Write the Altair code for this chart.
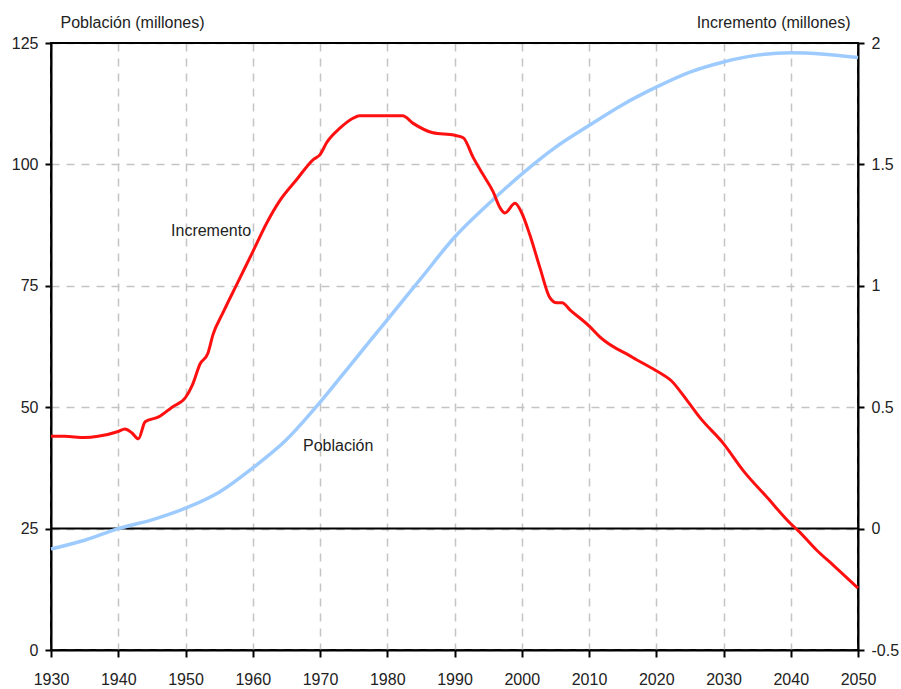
import altair as alt
import pandas as pd

# Población (millones), eje izquierdo
pop_years = [1930, 1935, 1940, 1945, 1950, 1955, 1960, 1965, 1970, 1975, 1980,
             1985, 1990, 1995, 2000, 2005, 2010, 2015, 2020, 2025, 2030, 2035,
             2040, 2045, 2050]
pop_values = [20.8, 22.6, 25.0, 26.8, 29.2, 32.5, 37.5, 43.3, 51.0, 59.5, 68.0,
              76.5, 85.0, 91.8, 98.0, 103.5, 108.0, 112.3, 115.9, 119.0, 121.1,
              122.5, 123.0, 122.7, 122.0]

# Incremento (millones), eje derecho
inc_years = [1930, 1932, 1935, 1937, 1940, 1941, 1942, 1943, 1944, 1946, 1948,
             1950, 1951, 1952.2, 1953.3, 1954.1, 1955.5, 1957.7, 1960, 1962.1,
             1964, 1966.6, 1969, 1970, 1971, 1973, 1974.9, 1975.9, 1982.3,
             1983.8, 1986.8, 1990, 1991.3, 1992.75, 1994.2, 1995.7, 1996.8,
             1997.5, 1999, 2000, 2001.2, 2002.7, 2004.2, 2005.2, 2006, 2007.2,
             2010, 2011.6, 2016.5, 2020, 2022.2, 2024.6, 2026.5, 2030, 2032.9,
             2036.5, 2040, 2041.1, 2043.9, 2046.3, 2050]
inc_values = [0.38, 0.38, 0.375, 0.38, 0.40, 0.41, 0.395, 0.37, 0.44, 0.46, 0.50,
              0.54, 0.59, 0.68, 0.72, 0.80, 0.885, 1.01, 1.14, 1.26,
              1.35, 1.44, 1.52, 1.54, 1.59, 1.65, 1.69, 1.70, 1.70,
              1.67, 1.63, 1.62, 1.61, 1.53, 1.46, 1.39, 1.32,
              1.30, 1.34, 1.30, 1.21, 1.075, 0.95, 0.93, 0.93, 0.90,
              0.835, 0.79, 0.705, 0.65, 0.61, 0.527, 0.457, 0.35, 0.24,
              0.128, 0.02, -0.008, -0.09, -0.15, -0.245]

x_ticks = list(range(1930, 2051, 10))
left_ticks = [0, 25, 50, 75, 100, 125]
right_ticks = [-0.5, 0, 0.5, 1, 1.5, 2]

labels_pop = pd.DataFrame({"year": [1972.7], "v": [42.0], "t": ["Población"]})
labels_inc = pd.DataFrame({"year": [1953.8], "v": [1.227], "t": ["Incremento"]})
solid_lines = pd.DataFrame({"v": [25, 125]})

pop_df = pd.DataFrame({"year": pop_years, "v": pop_values})
inc_df = pd.DataFrame({"year": inc_years, "v": inc_values})

FONT = "Liberation Sans"

x_enc = alt.X("year:Q", scale=alt.Scale(domain=[1930, 2050], nice=False, zero=False),
              axis=alt.Axis(values=x_ticks, format="d", title=None, grid=True,
                            gridDash=[8, 7], gridColor="#c4c4c4", gridWidth=1.5,
                            domainColor="black", domainWidth=2, tickColor="black",
                            tickWidth=2, tickSize=7, labelPadding=14, labelFontSize=16,
                            labelColor="#222", labelFont=FONT, labelFlush=False,
                            labelOverlap=False, labelBound=False))

y_left_scale = alt.Scale(domain=[0, 125], nice=False)
y_right_scale = alt.Scale(domain=[-0.5, 2], nice=False, zero=False)

left_axis = alt.Axis(values=left_ticks, title="Población (millones)", titleAngle=0,
                     titleAlign="left", titleBaseline="middle", titleX=9, titleY=-21,
                     titleFontSize=16, titleFontWeight="normal", titleFont=FONT,
                     titleColor="#222", grid=True, gridDash=[8, 7], gridColor="#c4c4c4",
                     gridWidth=1.5, domainColor="black", domainWidth=2,
                     tickColor="black", tickWidth=2, tickSize=6, labelPadding=7,
                     labelFontSize=16, labelColor="#222", labelFont=FONT,
                     labelFlush=False, labelOverlap=False)

right_axis = alt.Axis(values=right_ticks, orient="right", labelExpr="datum.value + ''",
                      title="Incremento (millones)", titleAngle=0, titleAlign="right",
                      titleBaseline="middle", titleX=-8, titleY=-21, titleFontSize=16,
                      titleFontWeight="normal", titleFont=FONT, titleColor="#222",
                      grid=False, domainColor="black", domainWidth=2, tickColor="black",
                      tickWidth=2, tickSize=6, labelPadding=7, labelFontSize=16,
                      labelColor="#222", labelFont=FONT, labelFlush=False,
                      labelOverlap=False)

blue = alt.Chart(pop_df).mark_line(color="#9dcbff", strokeWidth=3.5,
                                    interpolate="monotone").encode(
    x=x_enc, y=alt.Y("v:Q", scale=y_left_scale, axis=left_axis))

rules = alt.Chart(solid_lines).mark_rule(color="black", strokeWidth=2).encode(
    y=alt.Y("v:Q", scale=y_left_scale))

pop_text = alt.Chart(labels_pop).mark_text(fontSize=16, font=FONT, color="#222").encode(
    x="year:Q", y=alt.Y("v:Q", scale=y_left_scale), text="t:N")

left = alt.layer(rules, blue, pop_text)

red = alt.Chart(inc_df).mark_line(color="#ff1010", strokeWidth=3,
                                  interpolate="monotone").encode(
    x=x_enc, y=alt.Y("v:Q", scale=y_right_scale, axis=right_axis))

inc_text = alt.Chart(labels_inc).mark_text(fontSize=16, font=FONT, color="#222").encode(
    x="year:Q", y=alt.Y("v:Q", scale=y_right_scale), text="t:N")

right = alt.layer(red, inc_text)

chart = alt.layer(left, right).resolve_scale(y="independent").properties(
    width=807, height=607,
    autosize=alt.AutoSizeParams(type="none"),
    padding={"left": 51, "top": 43, "right": 43, "bottom": 39},
    background="white",
).configure_view(stroke="black", strokeWidth=2)

chart.save("out.html", embed_options={"renderer": "svg", "actions": False})
